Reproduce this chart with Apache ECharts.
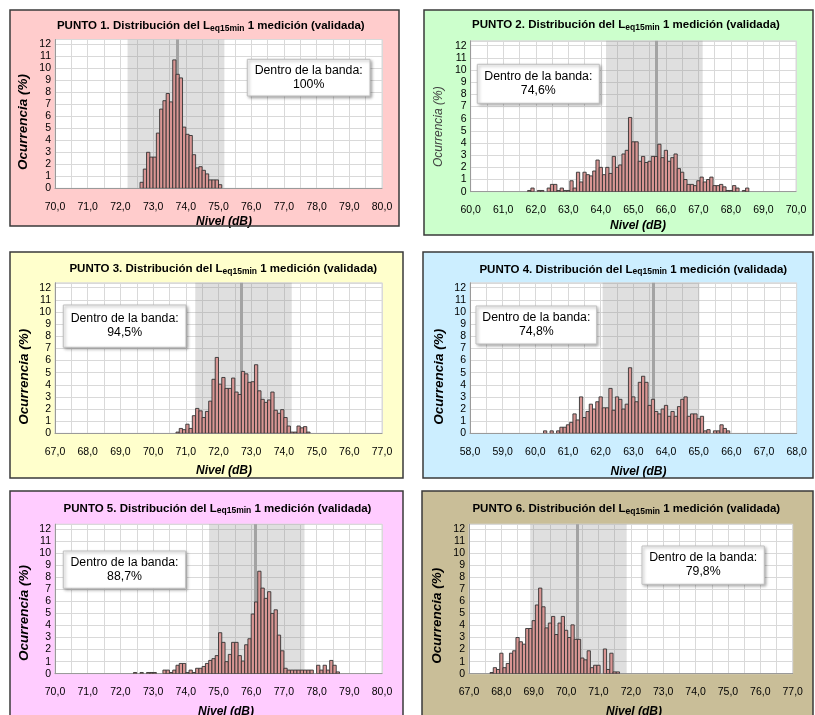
<!DOCTYPE html>
<html><head><meta charset="utf-8">
<script src="https://cdn.jsdelivr.net/npm/echarts@6/dist/echarts.min.js"></script>
<style>html,body{margin:0;padding:0;background:#fff;}#c{width:815px;height:715px;}</style>
</head><body><div id="c"></div>
<script>
// ---------------- DATA ----------------
const binWidth = 0.1;
const yTicks = [0,1,2,3,4,5,6,7,8,9,10,11,12];

const p1FirstBin = 72.6;
const p1Values = [0.5,1.6,3.0,2.6,2.6,4.6,6.6,7.3,7.9,7.2,10.7,9.5,9.2,5.1,4.5,4.4,2.8,1.7,1.8,1.5,1.2,0.7,0.7,0.7,0.3];
const p1Band = [72.22, 75.18], p1Mean = 73.74, p1Inside = '100%', p1Range = [70, 80];

const p2FirstBin = 61.75;
const p2Values = [0.1,0.3,0,0.1,0.1,0,0.3,0.6,0.6,0.1,0.3,0.1,0.1,0.9,0.3,1.6,0.8,1.6,1.4,1.3,1.7,2.6,2.0,1.4,2.0,1.5,2.9,2.0,2.2,3.1,3.4,
  6.1,4.1,4.1,2.5,2.9,2.4,2.5,2.9,2.9,3.9,2.8,3.4,2.5,2.8,3.1,1.9,1.6,1.0,0.6,0.6,0.5,0.9,1.2,0.8,1.0,1.2,0.5,0.5,0.6,0.4,0.1,0.1,0.5,0.3,0,0.1,0.3];
const p2Band = [64.16, 67.13], p2Mean = 65.69, p2Inside = '74,6%', p2Range = [60, 70];

const p3FirstBin = 70.7;
const p3Values = [0.1,0.4,0.3,0.75,0.4,1.45,2.05,1.85,1.3,1.8,2.65,4.45,6.25,4.05,4.6,3.7,3.7,4.55,3.4,3.2,5.1,4.9,4.2,4.25,5.65,3.5,2.8,2.55,2.75,3.4,1.9,1.65,1.95,1.3,0.6,0.1,0.1,0.6,0.45,0.55,0.1];
const p3Band = [71.29, 74.24], p3Mean = 72.71, p3Inside = '94,5%', p3Range = [67, 77];

const p4FirstBin = 60.25;
const p4Values = [0.2,0,0.2,0,0.2,0.5,0.5,0.7,0.9,1.6,1.1,3.0,1.3,1.8,2.4,2.0,2.6,3.0,2.1,2.1,3.7,1.9,3.0,2.8,2.0,2.4,5.4,3.0,2.6,4.2,4.7,4.2,2.3,2.8,1.8,1.6,2.0,2.3,1.4,1.8,1.4,2.2,2.8,3.0,1.4,1.6,1.6,1.2,1.4,0.2,0.3,0,0.2,0.2,0.7,0.4,0.2];
const p4Band = [62.06, 65.02], p4Mean = 63.60, p4Inside = '74,8%', p4Range = [58, 68];

const p5FirstBin = 72.4;
const p5Values = [0.1,0,0.1,0,0.1,0.1,0.1,0,0,
  0.3,0.3,0.1,0.3,0.7,0.85,0.85,0.1,0.3,0.1,0.45,0.45,0.6,0.85,1.1,1.25,1.5,
  3.4,2.6,1.0,1.6,2.6,2.6,1.5,1.05,2.4,2.9,
  4.95,5.95,8.5,7.1,6.25,6.8,5.0,5.3,3.2,1.9,
  0.45,0.3,0.3,0.3,0.3,0.3,0.3,0.3,0.3,0,0.7,0.3,0.7,0.3,1.1,0.7,0.15];
const p5Band = [74.71, 77.63], p5Mean = 76.12, p5Inside = '88,7%', p5Range = [70, 80];

const p6FirstBin = 67.65;
const p6Values = [0.1,0.5,0.35,1.7,0.5,0.85,1.7,1.9,3.0,2.65,2.45,3.75,3.75,4.4,5.7,7.1,5.55,3.8,4.2,4.75,3.25,4.2,4.75,3.6,3.0,4.05,2.85,2.85,1.3,1.15,1.9,0.5,0.7,0.7,0,2.05,0.35,1.7,0.15,0.15];
const p6Band = [68.89, 71.87], p6Mean = 70.33, p6Inside = '79,8%', p6Range = [67, 77];

// ---------------- LAYOUT ----------------
const panels = [
  {n:1, first:p1FirstBin, values:p1Values, band:p1Band, mean:p1Mean, inside:p1Inside, range:p1Range,
   bg:'#ffcccc', rect:[10,10,389,216], grid:{left:55, top:39.5, width:327, height:148.8},
   title:[210.8,26], box:[247.3,59.3,122.7,36.7], yname:[23.5,122], xname:[224,222], ynameBold:true},
  {n:2, first:p2FirstBin, values:p2Values, band:p2Band, mean:p2Mean, inside:p2Inside, range:p2Range,
   bg:'#ccffcc', rect:[424,10,389,225], grid:{left:470.7, top:40.8, width:325.3, height:150.9},
   title:[626,25], box:[477.3,64.3,122,39], yname:[439,126.7], xname:[638,225.7], ynameBold:false},
  {n:3, first:p3FirstBin, values:p3Values, band:p3Band, mean:p3Mean, inside:p3Inside, range:p3Range,
   bg:'#ffffcc', rect:[10,252,393,226], grid:{left:55, top:282.8, width:327, height:150.5},
   title:[223.3,269], box:[63.3,305,122.7,42.3], yname:[24.3,376.7], xname:[224,471], ynameBold:true},
  {n:4, first:p4FirstBin, values:p4Values, band:p4Band, mean:p4Mean, inside:p4Inside, range:p4Range,
   bg:'#cceeff', rect:[423,252,390,226], grid:{left:470, top:282.8, width:326.7, height:150.5},
   title:[633.3,269.5], box:[476,306,120.7,38], yname:[438.8,376.7], xname:[638.5,472], ynameBold:true},
  {n:5, first:p5FirstBin, values:p5Values, band:p5Band, mean:p5Mean, inside:p5Inside, range:p5Range,
   bg:'#ffccff', rect:[10,491,393,226], grid:{left:55, top:524.2, width:327, height:149.5},
   title:[217.5,508.5], box:[63.3,551,122.4,37.3], yname:[24.5,613], xname:[226,712], ynameBold:true},
  {n:6, first:p6FirstBin, values:p6Values, band:p6Band, mean:p6Mean, inside:p6Inside, range:p6Range,
   bg:'#c9be98', rect:[422,491,391,226], grid:{left:469, top:524.2, width:323.7, height:149.5},
   title:[626.3,509], box:[642,546,122.3,38.3], yname:[437.2,615.7], xname:[634,712], ynameBold:true}
];

const FONT = '"Liberation Sans", Arial, sans-serif';
const fmtX = v => Math.abs(v - Math.round(v)) < 1e-9 ? v.toFixed(1).replace('.', ',') : '';
const fmtY = v => yTicks.includes(Math.round(v)) && Math.abs(v - Math.round(v)) < 1e-9 ? String(Math.round(v)) : '';

const grids = [], xAxes = [], yAxes = [], series = [], graphics = [];

panels.forEach((p, i) => {
  graphics.push({type:'rect', z:-5, shape:{x:p.rect[0], y:p.rect[1], width:p.rect[2], height:p.rect[3]},
    style:{fill:p.bg}});
  graphics.push({type:'rect', z:100, shape:{x:p.rect[0], y:p.rect[1], width:p.rect[2], height:p.rect[3]},
    style:{fill:'none', stroke:'#3a3a3a', lineWidth:1.5}});
  graphics.push({type:'text', z:50, x:p.title[0], y:p.title[1], style:{
    text:'{b|PUNTO ' + p.n + '. Distribución del L}{s|eq15min}{b| 1 medición (validada)}',
    align:'center', verticalAlign:'middle', textAlign:'center', textVerticalAlign:'middle',
    rich:{b:{fontSize:11.5, fontWeight:'bold', fontFamily:FONT, fill:'#000', lineHeight:14, verticalAlign:'middle'},
          s:{fontSize:8.5, fontWeight:'bold', fontFamily:FONT, fill:'#000', lineHeight:9, verticalAlign:'bottom'}}
  }});
  graphics.push({type:'rect', z:40, shape:{x:p.box[0], y:p.box[1], width:p.box[2], height:p.box[3]},
    style:{fill:'#fff', stroke:'#bfbfbf', lineWidth:1, shadowBlur:3, shadowColor:'rgba(0,0,0,0.35)', shadowOffsetX:1.5, shadowOffsetY:1.5}});
  graphics.push({type:'text', z:41, x:p.box[0] + p.box[2]/2, y:p.box[1] + p.box[3]/2 - 0.5, style:{
    text:'Dentro de la banda:\n' + p.inside, fontSize:12.3, fontFamily:FONT, fill:'#000', lineHeight:14,
    align:'center', verticalAlign:'middle', textAlign:'center', textVerticalAlign:'middle'}});
  graphics.push({type:'text', z:50, x:p.yname[0], y:p.yname[1], rotation:Math.PI/2, style:{
    text:'Ocurrencia (%)', fontSize:p.ynameBold ? 13.5 : 12, fontWeight:p.ynameBold ? 'bold' : 'normal', fontStyle:'italic',
    fontFamily:FONT, fill:p.ynameBold ? '#000' : '#404040',
    align:'center', verticalAlign:'middle', textAlign:'center', textVerticalAlign:'middle'}});
  graphics.push({type:'text', z:50, x:p.xname[0], y:p.xname[1], style:{
    text:'Nivel (dB)', fontSize:12, fontWeight:'bold', fontStyle:'italic', fontFamily:FONT, fill:'#000',
    align:'center', verticalAlign:'middle', textAlign:'center', textVerticalAlign:'middle'}});

  grids.push(Object.assign({show:true, backgroundColor:'#fff', borderColor:'#d9d9d9', borderWidth:1, containLabel:false}, p.grid));
  xAxes.push({type:'value', gridIndex:i, min:p.range[0], max:p.range[1], interval:0.5,
    axisLine:{show:true, onZero:false, lineStyle:{color:'#9a9a9a', width:1}}, axisTick:{show:false},
    splitLine:{show:true, lineStyle:{color:'#d9d9d9', width:1}},
    axisLabel:{formatter:fmtX, margin:13, fontSize:10.5, fontFamily:FONT, color:'#000'}});
  yAxes.push({type:'value', gridIndex:i, min:0, max:12.4, interval:1,
    axisLine:{show:true, lineStyle:{color:'#9a9a9a', width:1}}, axisTick:{show:false},
    splitLine:{show:true, lineStyle:{color:'#d9d9d9', width:1}},
    axisLabel:{formatter:fmtY, margin:4, fontSize:10.5, fontFamily:FONT, color:'#000'}});

  series.push({type:'line', xAxisIndex:i, yAxisIndex:i, data:[], silent:true,
    markArea:{silent:true, itemStyle:{color:'rgba(140,140,140,0.28)'}, data:[[{xAxis:p.band[0]},{xAxis:p.band[1]}]]},
    markLine:{silent:true, symbol:'none', label:{show:false}, z:3,
      lineStyle:{color:'#a3a3a3', width:3, type:'solid'}, data:[{xAxis:p.mean}]}});
  const data = p.values.map((v, k) => [+(p.first + k * binWidth).toFixed(3), v]);
  series.push({type:'custom', xAxisIndex:i, yAxisIndex:i, z:6, clip:true, silent:true, data:data, encode:{x:0, y:1},
    renderItem:(params, api) => {
      const x0 = api.value(0), v = api.value(1);
      if (!v) return null;
      const a = api.coord([x0, 0]), b = api.coord([x0 + binWidth, v]);
      return {type:'rect', shape:{x:a[0], y:b[1], width:b[0]-a[0], height:a[1]-b[1]},
        style:{fill:'#d99694', stroke:'#333333', lineWidth:0.9}};
    }});
});

const chart = echarts.init(document.getElementById('c'), null, {renderer:'canvas'});
chart.setOption({animation:false, backgroundColor:'#fff', grid:grids, xAxis:xAxes, yAxis:yAxes, series:series, graphic:graphics});
</script></body></html>
